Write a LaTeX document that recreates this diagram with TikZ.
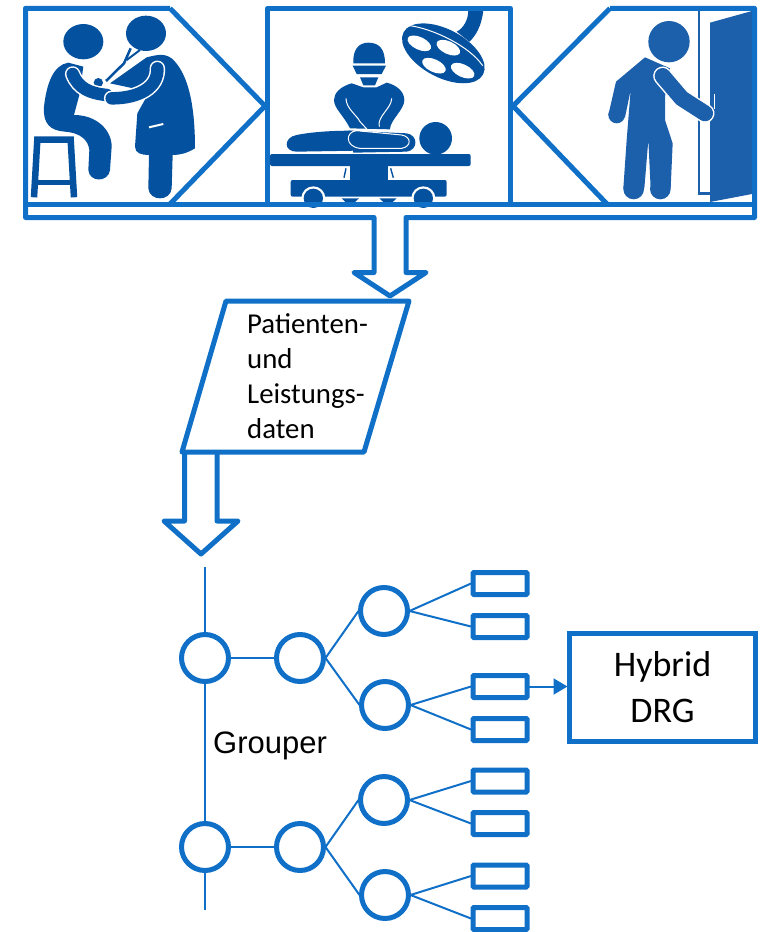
\documentclass[tikz,border=0pt]{standalone}
\usepackage{fontspec}
\setmainfont{Carlito}
\newfontfamily\arialf{Liberation Sans}
\usetikzlibrary{arrows.meta}
\definecolor{lineblue}{HTML}{1070C8}
\definecolor{icondark}{HTML}{04519F}
\definecolor{iconlight}{HTML}{1C5FAB}
\tikzset{
  x=1pt,y=-1pt,
  outline/.style={draw=lineblue,line width=5pt,line join=round},
  thinlink/.style={draw=lineblue,line width=2pt},
  treecircle/.style={circle,draw=lineblue,line width=5pt,minimum size=47pt,inner sep=0pt,outer sep=2pt,fill=white},
  leafbox/.style={rectangle,draw=lineblue,line width=5pt,rounded corners=1pt,minimum width=54pt,minimum height=22pt,inner sep=0pt,outer sep=2pt,fill=white},
  zoomed/.style={x=0.33333pt,y=-0.33333pt},
}
\begin{document}
\begin{tikzpicture}
\useasboundingbox (0,0) rectangle (767,932);
% ---------- doctor and patient
\begin{scope}[zoomed,icondark]
  \fill (250,125) ellipse [x radius=60,y radius=53];
  \fill (438,100) ellipse [x radius=60,y radius=53];
  % patient
  \fill (205,188) .. controls (160,195) and (140,250) .. (132,320)
     .. controls (128,370) and (150,392) .. (195,395)
     .. controls (240,398) and (265,420) .. (268,450) -- (265,510)
     .. controls (268,548) and (325,548) .. (330,510) -- (335,440)
     .. controls (335,390) and (290,345) .. (222,345) -- (238,285) -- (250,200) -- cycle;
  % stool
  \draw[line width=6.5pt,line join=miter] (102,592) -- (112,419) -- (212,419) -- (222,592);
  \draw[line width=4.5pt] (112,548) -- (216,548);
  % doctor
  \fill (440,172) .. controls (470,165) and (500,155) .. (525,185)
     .. controls (560,225) and (585,300) .. (585,445)
     .. controls (560,460) and (540,465) .. (518,465) -- (515,565)
     .. controls (512,605) and (448,605) .. (445,565) -- (447,465)
     .. controls (425,465) and (405,460) .. (405,440) -- (412,340) -- (440,290) -- (400,265) -- (330,250) -- cycle;
  % stethoscope
  \draw[line width=2.5pt] (392,145) -- (372,190) -- (318,243);
  \draw[line width=2pt] (420,150) -- (380,180);
  \fill (295,248) circle [radius=14];
  % arms
  \draw[white,line width=15.5pt,line cap=round] (218,222) .. controls (235,265) and (270,280) .. (320,285);
  \draw[line width=12.5pt,line cap=round] (218,222) .. controls (235,265) and (270,280) .. (320,285);
  \draw[white,line width=15.5pt,line cap=round] (472,205) .. controls (475,260) and (420,295) .. (335,295);
  \draw[line width=12.5pt,line cap=round] (472,205) .. controls (475,260) and (420,295) .. (335,295);
  \draw[white,line width=2pt] (447,382) -- (490,372);
\end{scope}
% ---------- operating theatre
\begin{scope}[shift={(260,0)},zoomed,icondark]
  \fill (670,30) .. controls (665,80) and (645,110) .. (628,125) -- (590,95)
     .. controls (610,85) and (625,60) .. (625,30) -- cycle;
  \fill (550,160) ellipse [x radius=135,y radius=72,rotate=-28];
  \draw[white,line width=1pt] (443,76) .. controls (520,85) and (630,140) .. (668,197);
  \foreach \cx/\cy in {478/130,565/143,522/197,608/212}
    \fill[white] (\cx,\cy) ellipse [x radius=38,y radius=19,rotate=-25];
  % surgeon
  \fill (280,190) .. controls (278,150) and (295,128) .. (325,128)
     .. controls (360,128) and (375,150) .. (375,190) -- cycle;
  \fill (278,197) -- (378,197) -- (365,222) -- (290,222) -- cycle;
  \fill (300,232) -- (355,232) -- (345,256) -- (310,256) -- cycle;
  \fill (275,250) .. controls (240,260) and (222,280) .. (222,300)
     .. controls (222,325) and (250,345) .. (270,385) -- (390,388)
     .. controls (390,360) and (433,330) .. (433,300)
     .. controls (433,275) and (410,255) .. (380,248) -- (350,262) -- (310,262) -- cycle;
  \draw[white,line width=1pt] (258,295) .. controls (258,325) and (290,345) .. (300,365) -- (325,392);
  \draw[white,line width=1pt] (395,295) .. controls (395,325) and (350,350) .. (358,380);
  % lying patient
  \fill (110,405) .. controls (160,395) and (220,392) .. (280,392) -- (290,452) -- (110,455)
     .. controls (70,455) and (70,412) .. (110,405) -- cycle;
  \fill (265,392) -- (440,400) .. controls (475,405) and (475,450) .. (440,455) -- (280,458) -- cycle;
  \draw[white,line width=1pt] (290,392) .. controls (255,395) and (255,440) .. (300,445)
     -- (425,445) .. controls (455,440) and (455,410) .. (425,405) -- cycle;
  \fill (527,415) circle [radius=49];
  % table
  \fill[rounded corners=2pt] (30,462) rectangle (632,498);
  \fill (270,498) rectangle (385,540);
  \fill[rounded corners=2pt] (92,540) rectangle (560,590);
  \draw[line width=1.4pt] (258,505) -- (252,533);
  \draw[line width=1.4pt] (392,505) -- (400,533);
  \foreach \wx in {160,490} {
    \fill[white] (\wx,595) circle [radius=36];
    \fill (\wx,595) circle [radius=29];
  }
  \fill (245,595) -- (297,595) -- (285,606) -- (256,606) -- cycle;
  \fill (358,595) -- (410,595) -- (398,606) -- (370,606) -- cycle;
\end{scope}
% ---------- person at the door
\begin{scope}[shift={(510,0)},zoomed,iconlight]
  \draw[line width=2.6pt] (567,33) -- (567,580) -- (602,580);
  \fill (600,68) -- (726,33) -- (726,582) -- (600,606) -- cycle;
  \fill (477,125) circle [radius=62];
  \fill (405,172) -- (318,245) -- (295,345) -- (345,352) -- (362,270) -- (350,420) -- (340,565) -- (403,565)
     -- (415,420) -- (422,565) -- (482,565) -- (488,430) -- (465,360) -- (465,290) -- (480,205) -- cycle;
  \fill (320,345) circle [radius=25];
  \fill (371,567) circle [radius=31];
  \fill (451,567) circle [radius=31];
  \draw[white,line width=1pt] (613,283) -- (613,328);
  \draw[line width=1.4pt] (616,283) -- (616,328);
  \draw[white,line width=19pt,line cap=round] (458,228) -- (515,295) -- (585,340);
  \draw[line width=16pt,line cap=round,line join=round] (458,228) -- (515,295) -- (585,340);
\end{scope}
% ---------- frame
\path[outline] (267.5,8.3) rectangle (510.5,204);
\path[outline] (25.5,204) -- (754.5,204);
\path[outline] (170,8.3) -- (265,106) -- (170,204);
\path[outline] (607,204) -- (513,106) -- (610,8.3);
\path[outline] (170,8.3) -- (25.5,8.3) -- (25.5,217.5) -- (374,217.5) -- (374,272.5) -- (354,272.5)
   -- (390,296) -- (426,272.5) -- (406,272.5) -- (406,217.5) -- (754.5,217.5) -- (754.5,8.3) -- (610,8.3);
% ---------- data parallelogram and arrow
\coordinate (pa) at (226,301);
\coordinate (pb) at (409,301);
\coordinate (pc) at (364,452);
\coordinate (pd) at (182,452);
\path[outline] (pa) -- (pb) -- (pc) -- (pd) -- cycle;
\path[outline] (184.5,452) -- (184.5,521) -- (164,521) -- (201,554) -- (238,521) -- (217,521) -- (217,452);
\node[anchor=base west,inner sep=0pt,align=left,font=\fontsize{28.8}{35}\selectfont] (data) at (247,438)
  {Patienten-\\und\\Leistungs-\\daten};
% ---------- grouper tree
\node[treecircle] (c1) at (205,658) {};
\node[treecircle] (c2) at (300,658) {};
\node[treecircle] (c3) at (384,611) {};
\node[treecircle] (c4) at (385,705) {};
\node[treecircle] (c5) at (205,847) {};
\node[treecircle] (c6) at (300,847) {};
\node[treecircle] (c7) at (384,800) {};
\node[treecircle] (c8) at (385,895) {};
\node[leafbox] (r1) at (500,583.5) {};
\node[leafbox] (r2) at (500,626.5) {};
\node[leafbox] (r3) at (500,686.5) {};
\node[leafbox] (r4) at (500,729.5) {};
\node[leafbox] (r5) at (500,781) {};
\node[leafbox] (r6) at (500,823.5) {};
\node[leafbox] (r7) at (500,876) {};
\node[leafbox] (r8) at (500,918.5) {};
\coordinate (top) at (205,567);
\coordinate (bot) at (205,910);
\draw[thinlink] (top) -- (c1.north);
\draw[thinlink] (c1.south) -- (c5.north);
\draw[thinlink] (c5.south) -- (bot);
\draw[thinlink] (c1.east) -- (c2.west);
\draw[thinlink] (c5.east) -- (c6.west);
\draw[thinlink] (c2.east) -- (c3.west);
\draw[thinlink] (c2.east) -- (c4.west);
\draw[thinlink] (c6.east) -- (c7.west);
\draw[thinlink] (c6.east) -- (c8.west);
\draw[thinlink] (c3.east) -- (r1.west);
\draw[thinlink] (c3.east) -- (r2.west);
\draw[thinlink] (c4.east) -- (r3.west);
\draw[thinlink] (c4.east) -- (r4.west);
\draw[thinlink] (c7.east) -- (r5.west);
\draw[thinlink] (c7.east) -- (r6.west);
\draw[thinlink] (c8.east) -- (r7.west);
\draw[thinlink] (c8.east) -- (r8.west);
\node[anchor=base west,inner sep=0pt,font=\arialf\fontsize{31}{36}\selectfont] (grouper) at (213,753) {Grouper};
\node[rectangle,draw=lineblue,line width=5pt,minimum width=186pt,minimum height=108pt,inner sep=0pt,outer sep=2pt,
  align=center,font=\fontsize{36}{46}\selectfont] (drg) at (662.5,687.5) {Hybrid\\DRG};
\draw[thinlink,-{Triangle[length=14pt,width=16pt]}] (r3.east) -- (drg.west |- r3.east);
\end{tikzpicture}
\end{document}
